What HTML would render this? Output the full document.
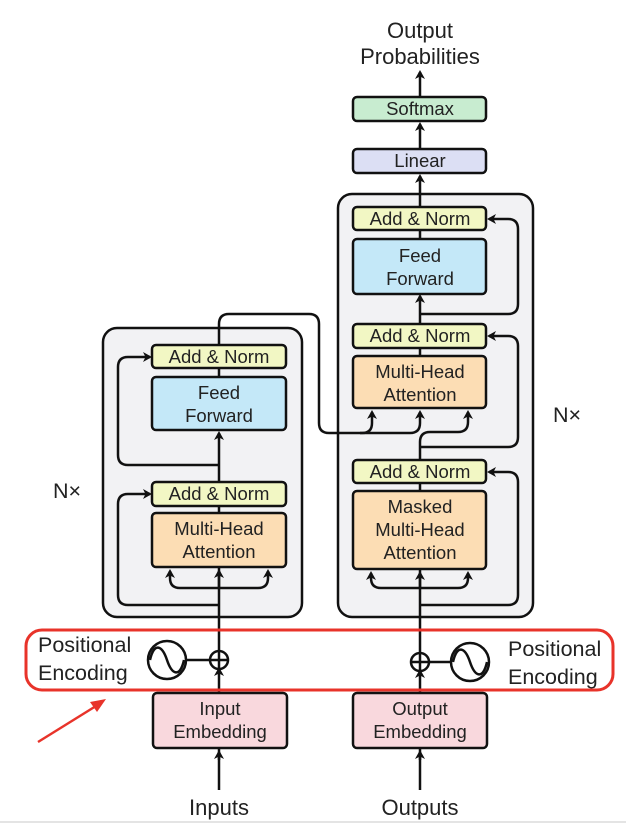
<!DOCTYPE html>
<html><head><meta charset="utf-8"><style>
html,body{margin:0;padding:0;background:#fff;}
svg{display:block;}
text{font-family:"Liberation Sans",sans-serif;fill:#222;}
</style></head><body>
<svg width="626" height="826" viewBox="0 0 626 826" xmlns="http://www.w3.org/2000/svg">
<defs>
<marker id="a" markerWidth="10" markerHeight="10" refX="7" refY="5" orient="auto" markerUnits="userSpaceOnUse">
<path d="M0,0 L9,5 L0,10 L2.5,5 Z" fill="#111"/>
</marker>
</defs>
<rect x="0" y="0" width="626" height="826" fill="#fff"/>
<line x1="0" y1="822" x2="626" y2="822" stroke="#e4e4e4" stroke-width="2"/>
<rect x="103" y="328" width="199" height="289" rx="14" fill="#f2f2f4" stroke="#111" stroke-width="2.5"/>
<rect x="338" y="194" width="195" height="423" rx="14" fill="#f2f2f4" stroke="#111" stroke-width="2.5"/>

<g stroke="#111" stroke-width="2.5" fill="none">
<line x1="219" y1="760" x2="219" y2="749" />
<line x1="219" y1="692" x2="219" y2="669" marker-end="url(#a)"/>
<line x1="219" y1="651" x2="219" y2="567"/>
<path d="M219,588 H180 Q170,588 170,578 V571" marker-end="url(#a)"/>
<path d="M219,588 H258 Q268,588 268,578 V571" marker-end="url(#a)"/>
<line x1="219" y1="588" x2="219" y2="571" marker-end="url(#a)"/>
<path d="M219,605 H128 Q118,605 118,595 V504 Q118,494 128,494 H150" marker-end="url(#a)"/>
<line x1="219" y1="513" x2="219" y2="506"/>
<line x1="219" y1="482" x2="219" y2="433" marker-end="url(#a)"/>
<path d="M219,465 H128 Q118,465 118,455 V367 Q118,357 128,357 H150" marker-end="url(#a)"/>
<line x1="219" y1="377" x2="219" y2="368"/>
<path d="M219,345 V324 Q219,314 229,314 H309 Q319,314 319,324 V423 Q319,433 329,433 H362 Q372,433 372,423 V412" marker-end="url(#a)"/>
<path d="M360,433 H410 Q420,433 420,423 V412" marker-end="url(#a)"/>
<line x1="420" y1="760" x2="420" y2="749"/>
<line x1="420" y1="692" x2="420" y2="671" marker-end="url(#a)"/>
<line x1="420" y1="653" x2="420" y2="569"/>
<path d="M420,588 H381 Q371,588 371,578 V573" marker-end="url(#a)"/>
<path d="M420,588 H458 Q468,588 468,578 V573" marker-end="url(#a)"/>
<line x1="420" y1="588" x2="420" y2="573" marker-end="url(#a)"/>
<path d="M420,605 H508 Q518,605 518,595 V482 Q518,472 508,472 H489" marker-end="url(#a)"/>
<line x1="420" y1="491" x2="420" y2="483"/>
<path d="M420,460 V442 Q420,432 430,432 H458 Q468,432 468,422 V412" marker-end="url(#a)"/>
<path d="M420,447 H508 Q518,447 518,437 V346 Q518,336 508,336 H489" marker-end="url(#a)"/>
<line x1="420" y1="356" x2="420" y2="348"/>
<line x1="420" y1="324" x2="420" y2="296" marker-end="url(#a)"/>
<path d="M420,314 H508 Q518,314 518,304 V229 Q518,219 508,219 H489" marker-end="url(#a)"/>
<line x1="420" y1="239" x2="420" y2="230"/>
<line x1="420" y1="207" x2="420" y2="176" marker-end="url(#a)"/>
<line x1="420" y1="149" x2="420" y2="124" marker-end="url(#a)"/>
<line x1="420" y1="97" x2="420" y2="72" marker-end="url(#a)"/>
<line x1="219" y1="790" x2="219" y2="752" marker-end="url(#a)"/>
<line x1="420" y1="790" x2="420" y2="752" marker-end="url(#a)"/>
<line x1="185" y1="660" x2="210" y2="660"/>
<circle cx="219" cy="660" r="9"/>
<line x1="219" y1="651" x2="219" y2="669"/><line x1="210" y1="660" x2="228" y2="660"/>
<circle cx="167" cy="660" r="19"/>
<path d="M150,660 C154,642 162,645 167,660 C172,675 180,678 184,660"/>
<line x1="429" y1="662" x2="452" y2="662"/>
<circle cx="420" cy="662" r="9"/>
<line x1="420" y1="653" x2="420" y2="671"/><line x1="411" y1="662" x2="429" y2="662"/>
<circle cx="470" cy="662" r="19"/>
<path d="M453,662 C457,644 465,647 470,662 C475,677 483,680 487,662"/>
</g>

<g stroke="#111" stroke-width="2.5">
<rect x="152" y="345" width="134" height="23" rx="4" fill="#f2f7c4"/>
<rect x="152" y="377" width="134" height="53" rx="4" fill="#c4e8f8"/>
<rect x="152" y="482" width="134" height="24" rx="4" fill="#f2f7c4"/>
<rect x="152" y="513" width="134" height="54" rx="4" fill="#fcddb4"/>
<rect x="353" y="207" width="133" height="23" rx="4" fill="#f2f7c4"/>
<rect x="353" y="239" width="133" height="55" rx="4" fill="#c4e8f8"/>
<rect x="353" y="324" width="133" height="24" rx="4" fill="#f2f7c4"/>
<rect x="353" y="356" width="133" height="52" rx="4" fill="#fcddb4"/>
<rect x="353" y="460" width="133" height="23" rx="4" fill="#f2f7c4"/>
<rect x="353" y="491" width="133" height="78" rx="4" fill="#fcddb4"/>
<rect x="353" y="149" width="133" height="24" rx="4" fill="#dcdff4"/>
<rect x="353" y="97" width="133" height="24" rx="4" fill="#c8ecd0"/>
<rect x="153" y="693" width="134" height="55" rx="4" fill="#f9d8dd"/>
<rect x="353" y="693" width="134" height="55" rx="4" fill="#f9d8dd"/>
</g>

<g font-size="18.5" text-anchor="middle">
<text x="219" y="363">Add &amp; Norm</text>
<text x="219" y="399">Feed</text><text x="219" y="422">Forward</text>
<text x="219" y="500">Add &amp; Norm</text>
<text x="219" y="535">Multi-Head</text><text x="219" y="558">Attention</text>
<text x="420" y="225">Add &amp; Norm</text>
<text x="420" y="262">Feed</text><text x="420" y="285">Forward</text>
<text x="420" y="342">Add &amp; Norm</text>
<text x="420" y="378">Multi-Head</text><text x="420" y="401">Attention</text>
<text x="420" y="478">Add &amp; Norm</text>
<text x="420" y="513">Masked</text><text x="420" y="536">Multi-Head</text><text x="420" y="559">Attention</text>
<text x="420" y="167">Linear</text>
<text x="420" y="115">Softmax</text>
<text x="220" y="715">Input</text><text x="220" y="738">Embedding</text>
<text x="420" y="715">Output</text><text x="420" y="738">Embedding</text>
</g>
<g font-size="22" text-anchor="middle">
<text x="420" y="38">Output</text>
<text x="420" y="64">Probabilities</text>
<text x="219" y="815">Inputs</text>
<text x="420" y="815">Outputs</text>
</g>
<g font-size="21.5">
<text x="38" y="652">Positional</text>
<text x="38" y="680">Encoding</text>
<text x="508" y="656">Positional</text>
<text x="508" y="684">Encoding</text>
<text x="53" y="498">N×</text>
<text x="553" y="422">N×</text>
</g>

<rect x="26" y="630" width="587" height="60" rx="16" fill="none" stroke="#e8332a" stroke-width="3"/>
<line x1="38" y1="742" x2="96" y2="706" stroke="#e8332a" stroke-width="2.5"/>
<path d="M106,699 L90,702 L97,712 Z" fill="#e8332a"/>
</svg>
</body></html>
